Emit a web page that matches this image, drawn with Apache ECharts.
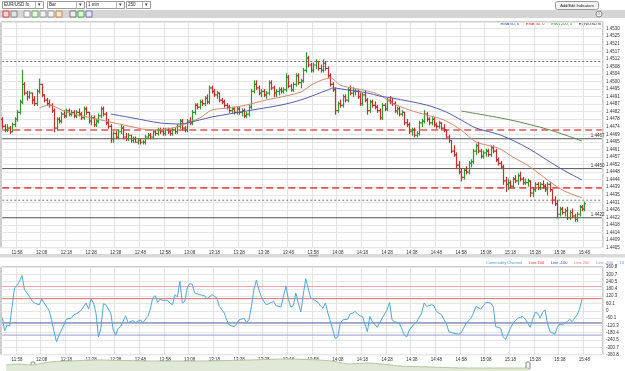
<!DOCTYPE html>
<html>
<head>
<meta charset="utf-8">
<script src="https://cdn.jsdelivr.net/npm/echarts/dist/echarts.min.js"></script>
<style>
  html, body { margin: 0; padding: 0; background: #fff; }
  #chart { width: 625px; height: 371px; }
</style>
</head>
<body>
<div id="chart"></div>
<script>
// prices are stored as pips above BASE
var BASE = 1.4401;

var opens = [77,73,71,72,70,74,77,81,87,97, 92,90,92,88,86,93,97,91,88,86, 85,82,72,77,76,80,79,82,80,81,
  79,81,80,78,83,81,76,78,74,76, 79,83,80,75,73,66,69,67,70,72, 67,66,68,65,66,64,65,64,64,67,
  68,67,70,69,71,70,69,71,70,69, 71,70,73,76,72,71,76,75,81,85, 84,87,86,89,87,95,93,91,92,88,
  87,85,84,82,83,81,83,81,82,79, 80,84,93,97,95,92,93,91,92,98, 95,92,93,94,93,94,101,96,94,97,
  102,98,99,105,112,108,105,108,110,106, 105,109,106,102,97,94,82,86,85,90, 88,94,92,93,93,90,86,91,88,82,
  87,85,84,82,78,85,83,88,87,86, 82,83,80,81,75,74,70,71,68,69, 75,76,80,77,75,77,74,73,75,72,
  71,67,65,59,57,51,47,44,48,47, 52,53,59,62,59,56,58,59,57,61, 59,54,52,50,42,40,41,39,43,42,
  45,43,41,41,42,35,37,40,38,40, 39,37,40,37,31,29,23,26,24,25, 21,24,22,20,23,27,26];
var highs = [78,74,74,73,75,78,82,88,105,98, 93,93,92,90,94,100,97,91,89,88, 86,83,78,78,81,82,83,83,82,82,
  82,83,81,84,84,81,79,79,77,80, 84,84,81,77,74,70,70,71,74,73, 69,69,68,67,67,66,66,65,68,69,
  69,71,71,72,72,72,72,72,71,72, 72,74,77,77,73,77,78,82,86,86, 88,88,90,91,96,96,94,93,92,89,
  88,86,85,84,84,84,84,83,83,81, 85,94,99,99,96,94,94,93,99,99, 96,94,95,95,95,103,102,97,98,103,
  103,100,106,115,113,109,109,111,110,108, 111,110,107,103,98,95,87,88,91,91, 95,96,95,94,94,92,92,93,89,88,
  88,87,85,83,86,86,89,90,89,87, 84,84,82,81,77,75,72,72,70,76, 77,82,81,78,78,78,75,76,75,74,
  71,68,65,62,58,53,49,49,50,53, 54,60,63,64,60,59,60,60,62,62, 60,55,53,51,44,43,42,44,45,46,
  47,44,43,43,42,38,41,41,41,42, 40,41,41,37,33,31,27,27,26,27, 25,26,23,24,28,28,30];
var lows = [72,70,70,69,70,73,76,80,86,91, 88,89,86,85,85,92,90,87,85,84, 81,70,71,75,75,78,78,79,79,78,
  78,79,77,77,80,75,74,73,73,75, 78,79,74,72,64,64,66,66,69,66, 65,65,64,64,64,63,63,63,63,66,
  66,66,68,68,69,68,68,69,68,68, 69,69,72,71,70,70,74,74,80,83, 83,85,85,86,86,92,90,89,87,86,
  84,83,81,81,80,80,80,79,78,78, 79,83,92,94,91,90,90,89,91,94, 90,90,91,92,92,93,95,93,93,96,
  97,95,98,104,107,104,104,106,105,104, 104,105,101,96,93,80,81,84,84,87, 87,91,90,91,89,85,85,87,80,81,
  84,83,81,77,77,82,82,86,85,81, 80,79,79,74,73,69,68,67,67,68, 73,75,76,74,74,73,72,72,71,70,
  66,64,58,56,49,46,42,43,46,46, 50,52,57,58,55,55,56,56,56,58, 53,51,49,40,36,37,38,38,41,40,
  42,40,40,39,33,33,36,37,37,38, 36,34,36,29,28,21,22,23,22,20, 20,21,19,19,22,25,25];
var closes = [73,71,72,70,74,77,81,87,97,92, 90,92,88,86,93,97,91,88,86,85, 82,72,77,76,80,79,82,80,81,79,
  81,80,78,83,81,76,78,74,76,79, 83,80,75,73,66,69,67,70,72,67, 66,68,65,66,64,65,64,64,67,68,
  67,70,69,71,70,69,71,70,69,71, 70,73,76,72,71,76,75,81,85,84, 87,86,89,87,95,93,91,92,88,87,
  85,84,82,83,81,83,81,82,79,80, 84,93,97,95,92,93,91,92,98,95, 92,93,94,93,94,101,96,94,97,102,
  98,99,105,112,108,105,108,110,106,105, 109,106,102,97,94,82,86,85,90,88, 94,92,93,93,90,86,91,88,82,87,
  85,84,82,78,85,83,88,87,86,82, 83,80,81,75,74,70,71,68,69,75, 76,80,77,75,77,74,73,75,72,71,
  67,65,59,57,51,47,44,48,47,52, 53,59,62,59,56,58,59,57,61,59, 54,52,50,42,40,41,39,43,42,45,
  43,41,41,42,35,37,40,38,40,39, 37,40,37,31,29,23,26,24,25,21, 24,22,20,23,27,26,29];

// moving averages: [bar index, pips]
var ema30 = [[15,83.5],[19,85.2],[26,81.2],[40,76.7],[53,72.7],[60,71.0],[67,71.6],[72,73.3],[80,77.8],
  [85,82.4],[92,83.5],[99,85.2],[107,88.1],[113,89.8],[121,92.6],[126,97.2],[133,100.6],[137,96.6],
  [142,94.9],[148,93.2],[153,90.9],[158,86.4],[165,82.4],[172,79.5],[179,76.7],[186,71.0],[192,64.2],
  [201,60.7],[207,55.6],[214,49.9],[221,42.5],[227,36.8],[235,32.3]];
var ema60 = [[44,80.1],[53,77.8],[64,75.0],[72,74.4],[80,76.7],[85,78.4],[99,81.8],[113,85.2],[121,88.1],
  [132,93.8],[134,94.9],[140,93.8],[148,92.1],[153,90.3],[158,89.2],[172,85.2],[180,81.2],[186,76.7],
  [192,72.1],[202,68.1],[213,60.7],[226,49.3],[235,42.5]];
var ema200 = [[186,81.8],[206,76.7],[222,71.0],[235,64.7]];

var solidLevels = [1.4467, 1.4450, 1.4422];
var redLevels = [1.4472, 1.4439];
var dottedLevels = [1.4511, 1.4432];

// commodity channel index: [bar index, value]
var cci = [[0,-55],[1,-164],[2,-117],[3,-125],[4,36],[5,189],[6,208],[7,244],[8,292],[9,175],[11,119],[12,86],
  [13,64],[15,50],[16,97],[17,64],[19,3],[20,-75],[21,-172],[22,-256],[23,-200],[25,-117],[26,-69],[28,-61],
  [29,-33],[30,-25],[32,3],[33,36],[34,64],[35,14],[36,97],[37,64],[38,-19],[39,-214],[40,-144],[41,58],
  [42,50],[44,-19],[45,-158],[46,-200],[47,-144],[48,-131],[50,-42],[51,-97],[53,-81],[54,-97],[56,-75],
  [57,-97],[59,-47],[60,14],[61,106],[62,125],[63,69],[64,97],[65,86],[67,86],[68,64],[69,50],[70,133],
  [71,114],[72,244],[73,64],[74,78],[75,189],[76,225],[77,217],[78,147],[80,133],[82,125],[83,97],[85,133],
  [87,106],[88,36],[90,-19],[91,-75],[92,-117],[94,-131],[95,-108],[96,-75],[98,-61],[99,-97],[100,-75],
  [101,36],[102,175],[103,252],[104,175],[105,119],[106,78],[107,50],[108,58],[110,78],[111,42],[113,31],
  [114,120],[115,203],[116,92],[117,31],[118,42],[119,147],[120,64],[121,-10],[122,130],[123,264],[125,106],
  [126,97],[128,69],[129,40],[130,22],[131,64],[132,-19],[134,-158],[135,-228],[136,-214],[137,-103],
  [138,-75],[140,-69],[141,-25],[142,-19],[143,-6],[145,-42],[146,-47],[148,-172],[149,-47],[150,-89],
  [152,-136],[154,-61],[156,8],[157,69],[158,-75],[159,-89],[161,-103],[163,-200],[164,-214],[165,-158],
  [167,-108],[168,-89],[170,-19],[171,64],[172,36],[174,50],[175,42],[176,-6],[178,-33],[179,-70],[180,-103],
  [181,-172],[183,-186],[185,-192],[186,-181],[188,-103],[190,-61],[191,-19],[192,36],[194,14],[195,42],
  [196,69],[198,64],[199,36],[200,-131],[202,-144],[203,-214],[204,-236],[206,-144],[207,-103],[209,-61],
  [211,-47],[212,-69],[214,-136],[215,-69],[216,-14],[217,-19],[218,-61],[219,-14],[220,8],[221,-103],
  [222,-172],[224,-192],[225,-136],[226,-108],[227,-117],[229,-89],[230,-69],[231,-89],[233,-33],[234,14],[235,97]];
var cciLevels = [200, 100, -100, -200];

// navigator strip: position (% of history) and height
var navPos = [1,3,5,8,11,16,24,32,40,46,51,53,56,59,64,69,74,80,84.5];
var navVal = [6,7,6,9,10,11,10,10,11,12,11,10,7,8,5,4,3,3,3];

// one-minute categories 11:52 .. 15:55
var times = [];
for (var m = 11 * 60 + 52; m <= 15 * 60 + 55; m++) {
  var mm = m % 60;
  times.push(Math.floor(m / 60) + ':' + (mm < 10 ? '0' : '') + mm);
}
var LAST = times.length - 1;

var UP = '#2f9a2f', DOWN = '#c62f2f';
var FONT = 'Liberation Sans';

function price(p) { return +(BASE + p / 10000).toFixed(5); }

var bars = opens.map(function (o, i) {
  return [i, price(o), price(closes[i]), price(lows[i]), price(highs[i])];
});
function emaData(arr) { return arr.map(function (d) { return [d[0], price(d[1])]; }); }

function renderBar(params, api) {
  var i = api.value(0);
  var o = api.coord([i, api.value(1)]);
  var c = api.coord([i, api.value(2)]);
  var l = api.coord([i, api.value(3)]);
  var h = api.coord([i, api.value(4)]);
  var x = Math.round(o[0]) + 0.5;
  var st = { stroke: api.value(2) >= api.value(1) ? UP : DOWN, lineWidth: 1.2 };
  return { type: 'group', children: [
    { type: 'line', shape: { x1: x, y1: h[1] - 0.5, x2: x, y2: l[1] + 0.5 }, style: st },
    { type: 'line', shape: { x1: x - 1.5, y1: o[1], x2: x, y2: o[1] }, style: st },
    { type: 'line', shape: { x1: x, y1: c[1], x2: x + 1.5, y2: c[1] }, style: st }
  ]};
}

var tenMin = function (idx, val) { return val.slice(-1) === '8'; };
function xAxisOf(g) {
  return {
    type: 'category', gridIndex: g, data: times, boundaryGap: true,
    axisLine: { show: false }, axisTick: { show: false },
    axisLabel: { interval: tenMin, fontSize: 4.5, color: '#333', margin: 3, fontFamily: FONT },
    splitLine: { show: true, interval: tenMin, lineStyle: { color: '#e3e3e3', width: 1 } }
  };
}

// horizontal level as a two-point line across the whole plot
function levelSeries(v, xi, yi, style, labelText) {
  return {
    type: 'line', xAxisIndex: xi, yAxisIndex: yi, silent: true, showSymbol: false, z: 2,
    data: [[0, v], [LAST, v]], lineStyle: style,
    endLabel: labelText ? { show: true, formatter: labelText, fontSize: 4.5, color: '#333',
      fontFamily: FONT, offset: [-19, -3] } : { show: false }
  };
}

var levelList = [];
solidLevels.forEach(function (v) {
  levelList.push(levelSeries(v, 0, 0, { color: '#555', type: 'solid', width: 1 }, v.toFixed(4)));
});
redLevels.forEach(function (v) {
  levelList.push(levelSeries(v, 0, 0, { color: '#e05555', type: [7, 4], width: 1.6 }));
});
dottedLevels.forEach(function (v) {
  levelList.push(levelSeries(v, 0, 0, { color: '#777', type: [2, 2], width: 1 }));
});
var cciColors = ['#f0a3a3', '#e06a6a', '#4a5694', '#9a9ccc'];
cciLevels.forEach(function (v, k) {
  levelList.push(levelSeries(v, 1, 1, { color: cciColors[k], type: 'solid', width: 1 }));
});

function txt(x, y, s, color, align, size) {
  return { type: 'text', x: x, y: y, silent: true,
    style: { text: s, fill: color || '#333', fontSize: size || 4.5, fontFamily: FONT,
      textAlign: align || 'left', textVerticalAlign: 'middle' } };
}
function rect(x, y, w, h, fill, stroke, r) {
  return { type: 'rect', shape: { x: x, y: y, width: w, height: h, r: r || 0 }, silent: true,
    style: { fill: fill, stroke: stroke || null, lineWidth: 1 } };
}
function dropBox(x, w, label) {
  return [rect(x + 0.5, 1.5, w, 7, '#fff', '#9a9a9a'), txt(x + 2, 5, label, '#222'),
    { type: 'line', shape: { x1: x + w - 7.5, y1: 2, x2: x + w - 7.5, y2: 8.5 }, style: { stroke: '#bbb' } },
    txt(x + w - 3.5, 5, '\u25BE', '#333', 'center')];
}
function richHeader(x, y, parts) {
  var rich = {}, s = [];
  parts.forEach(function (p, k) {
    rich['p' + k] = { fill: p[1], fontSize: 4, fontFamily: FONT };
    s.push('{p' + k + '|' + p[0] + '}');
  });
  return { type: 'text', x: x, y: y, silent: true,
    style: { text: s.join('  '), rich: rich, textAlign: 'right', textVerticalAlign: 'middle' } };
}

var gfx = [].concat(
  dropBox(2, 41, 'EUR/USD fx'), dropBox(47, 37, 'Bar'), dropBox(86, 38, '1 min'), dropBox(126, 24, '250'),
  [rect(555.5, 1.5, 43, 8, '#f3f3f3', '#9a9a9a', 2), txt(577, 5.5, 'Add/Edit Indicators', '#222', 'center', 4),
   rect(0, 10, 625, 8, '#d5d5d5'),
   rect(3, 11, 6, 6, '#f2d6d6', '#c44'), rect(11, 11, 6, 6, '#e4e4e4', '#888'),
   rect(24, 11, 6, 6, '#fafafa', '#999'), rect(32, 11, 6, 6, '#eef6ee', '#6a6'),
   rect(40, 11, 6, 6, '#f2f2f2', '#999'), rect(48, 11, 6, 6, '#f4f4f4', '#999'),
   rect(56, 11, 6, 6, '#f6e6d8', '#c84'), rect(70, 11, 6, 6, '#eeeeee', '#777'),
   rect(78, 11, 6, 6, '#e2f2e2', '#4a4'), rect(86, 11, 6, 6, '#e6e6f6', '#77b'),
   { type: 'circle', shape: { cx: 599, cy: 14, r: 3 }, silent: true, style: { fill: '#eee', stroke: '#888' } },
   txt(599, 14, 'i', '#555', 'center'),
   richHeader(601, 24, [['EMA 60, 0', '#3344aa'], ['EMA 30, 0', '#cc3333'], ['EMA 200, 0', '#338833'],
     ['EUR/USD fx', '#222']]),
   rect(0, 254, 625, 3.5, '#dadada'), rect(309, 255, 9, 1.5, '#a8a8a8'),
   richHeader(624, 262.5, [['Commodity Channel', '#4aa3d6'], ['Line 100', '#d03030'], ['Line -100', '#3a4aa0'],
     ['Line 200', '#e07a7a'], ['Line -200', '#8a8ac8'], ['14', '#4aa3d6']]),
   rect(31, 362, 4, 7, '#f5f5f5', '#888', 1), rect(526, 362, 4, 7, '#f5f5f5', '#888', 1)]
);

var chart = echarts.init(document.getElementById('chart'), null, { renderer: 'canvas' });
chart.setOption({
  animation: false,
  backgroundColor: '#fff',
  textStyle: { fontFamily: FONT },
  grid: [
    { left: 1, right: 22, top: 22, height: 225.6, show: true, borderColor: '#9a9a9a', borderWidth: 1 },
    { left: 1, right: 22, top: 267, height: 87.6, show: true, borderColor: '#9a9a9a', borderWidth: 1 },
    { left: 0, right: 0, top: 358, height: 13 }
  ],
  xAxis: [xAxisOf(0), xAxisOf(1),
    { type: 'value', gridIndex: 2, min: 0, max: 100, show: false }],
  yAxis: [
    { type: 'value', gridIndex: 0, position: 'right', min: 1.4405, max: 1.45335, interval: 0.00043,
      axisLine: { show: false }, axisTick: { show: false },
      axisLabel: { fontSize: 4.5, color: '#333', margin: 3, showMaxLabel: false, fontFamily: FONT,
        formatter: function (v) { return v.toFixed(4); } },
      splitLine: { lineStyle: { color: '#e6e6e6' } } },
    { type: 'value', gridIndex: 1, position: 'right', min: -360.804, max: 360.804, interval: 60.134,
      axisLine: { show: false }, axisTick: { show: false },
      axisLabel: { fontSize: 4.5, color: '#333', margin: 3, fontFamily: FONT,
        formatter: function (v) { return Math.abs(v) < 1e-6 ? '0' : v.toFixed(1); } },
      splitLine: { lineStyle: { color: '#e6e6e6' } } },
    { type: 'value', gridIndex: 2, min: 0, max: 13, show: false }
  ],
  series: [
    { type: 'custom', name: 'EUR/USD', xAxisIndex: 0, yAxisIndex: 0, renderItem: renderBar,
      encode: { x: 0, y: [1, 2, 3, 4] }, data: bars, z: 3 },
    { type: 'line', name: 'EMA 30', xAxisIndex: 0, yAxisIndex: 0, data: emaData(ema30), smooth: 0.3,
      showSymbol: false, lineStyle: { color: '#d08a6a', width: 1 }, z: 4 },
    { type: 'line', name: 'EMA 60', xAxisIndex: 0, yAxisIndex: 0, data: emaData(ema60), smooth: 0.3,
      showSymbol: false, lineStyle: { color: '#4f5fae', width: 1 }, z: 4 },
    { type: 'line', name: 'EMA 200', xAxisIndex: 0, yAxisIndex: 0, data: emaData(ema200), smooth: 0.3,
      showSymbol: false, lineStyle: { color: '#5a8c4c', width: 1 }, z: 4 },
    { type: 'line', name: 'CCI', xAxisIndex: 1, yAxisIndex: 1, data: cci, showSymbol: false,
      lineStyle: { color: '#4ea8da', width: 1 }, z: 4 },
    { type: 'line', name: 'nav', xAxisIndex: 2, yAxisIndex: 2,
      data: navPos.map(function (p, k) { return [p, navVal[k]]; }), showSymbol: false, smooth: 0.2,
      lineStyle: { color: '#b3c6a2', width: 1 }, areaStyle: { color: '#dfe9d5', opacity: 1 } }
  ].concat(levelList),
  graphic: { elements: gfx }
});
</script>
</body>
</html>
